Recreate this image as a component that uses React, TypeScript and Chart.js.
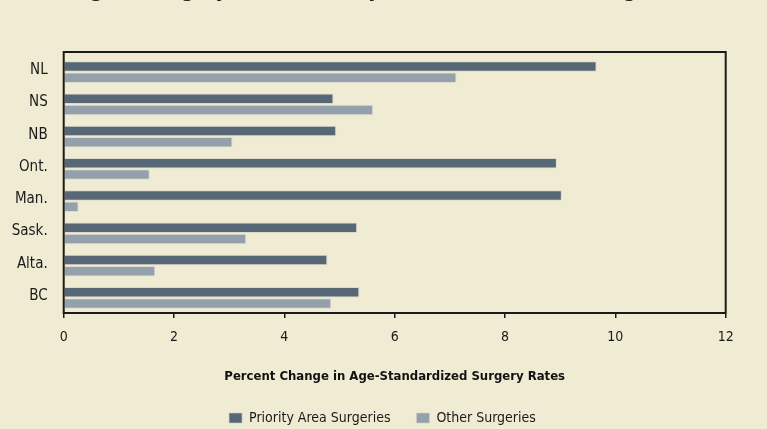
import React, { useEffect, useRef } from 'react';
import { Chart, registerables } from 'chart.js';

Chart.register(...registerables);

const provinces = ['NL', 'NS', 'NB', 'Ont.', 'Man.', 'Sask.', 'Alta.', 'BC'];
const priorityArea = [9.66, 4.89, 4.94, 8.94, 9.03, 5.32, 4.78, 5.36];
const otherSurgeries = [7.12, 5.61, 3.06, 1.56, 0.27, 3.31, 1.66, 4.85];
const xTicks = [0, 2, 4, 6, 8, 10, 12];
const seriesNames = ['Priority Area Surgeries', 'Other Surgeries'];
const chartTitle = 'Change in Surgery Rates, Priority Areas Versus Other Surgeries';
const axisTitle = 'Percent Change in Age-Standardized Surgery Rates';

const FAMILY = "'Liberation Sans Narrow', 'DejaVu Sans Condensed', 'Roboto Condensed', sans-serif";
const BG = '#F0EBD3';
const DARK = '#576775';
const LIGHT = '#94A0AC';
const INK = '#1a1a1a';
const OFFSET = 19;
const LEGEND_SHIFT = 19.6;

const bgPlugin = {
  id: 'bgFill',
  beforeDraw(chart: any) {
    const { ctx, width, height } = chart;
    ctx.save();
    ctx.fillStyle = BG;
    ctx.fillRect(0, 0, width, height);
    ctx.restore();
  },
};

const framePlugin = {
  id: 'frameBox',
  afterDatasetsDraw(chart: any) {
    const { ctx, chartArea } = chart;
    ctx.save();
    ctx.strokeStyle = INK;
    ctx.lineWidth = 2;
    const top = chartArea.top - 4;
    const bottom = chartArea.bottom - 1;
    ctx.strokeRect(chartArea.left, top, chartArea.right - chartArea.left, bottom - top);
    ctx.restore();
  },
};

const legendShiftPlugin = {
  id: 'legendShift',
  afterLayout(chart: any) {
    const lg = chart.legend;
    if (lg) {
      lg.left += LEGEND_SHIFT;
      lg.right += LEGEND_SHIFT;
    }
  },
};

export default function App() {
  const canvasRef = useRef<HTMLCanvasElement | null>(null);

  useEffect(() => {
    document.body.style.background = BG;
    const canvas = canvasRef.current;
    if (!canvas) return;
    const chart = new Chart(canvas, {
      type: 'bar',
      data: {
        labels: provinces,
        datasets: [
          {
            label: seriesNames[0],
            data: priorityArea,
            backgroundColor: DARK,
            borderColor: 'rgba(205,207,200,0.6)',
            borderWidth: 1,
            categoryPercentage: 0.685,
            barPercentage: 0.95,
          },
          {
            label: seriesNames[1],
            data: otherSurgeries,
            backgroundColor: LIGHT,
            borderColor: 'rgba(210,212,205,0.6)',
            borderWidth: 1,
            categoryPercentage: 0.685,
            barPercentage: 0.95,
          },
        ],
      },
      options: {
        indexAxis: 'y',
        animation: false,
        responsive: false,
        devicePixelRatio: 1,
        layout: { padding: { left: 0, right: 41.3, top: 0, bottom: 0 } },
        scales: {
          x: {
            type: 'linear',
            min: 0,
            max: 12,
            afterBuildTicks: (s: any) => {
              s.ticks = xTicks.map((v) => ({ value: v }));
            },
            grid: {
              drawOnChartArea: false,
              drawTicks: true,
              tickLength: 4,
              color: INK,
              lineWidth: 1.5,
            },
            border: { display: false },
            ticks: {
              padding: 11,
              color: INK,
              font: { size: 14, family: FAMILY },
            },
            title: {
              display: true,
              text: axisTitle,
              color: '#111',
              font: { size: 13, weight: 'bold', family: FAMILY },
              padding: { top: 12, bottom: 0.6 },
            },
          },
          y: {
            type: 'category',
            grid: { display: false, drawTicks: false, tickLength: 0 },
            border: { display: false },
            ticks: {
              padding: 16,
              labelOffset: -2,
              color: INK,
              font: { size: 15, family: FAMILY },
            },
            afterFit: (s: any) => {
              s.width = 63.7;
            },
          },
        },
        plugins: {
          title: {
            display: true,
            text: chartTitle,
            color: '#111',
            font: { size: 20, weight: 'bold', family: FAMILY },
            padding: { top: -1, bottom: 52 },
          },
          legend: {
            position: 'bottom',
            labels: {
              boxWidth: 13,
              boxHeight: 10,
              padding: 26,
              color: INK,
              font: { size: 14, family: FAMILY },
            },
          },
          tooltip: { enabled: false },
        },
      } as any,
      plugins: [bgPlugin, framePlugin, legendShiftPlugin],
    });
    return () => chart.destroy();
  }, []);

  return (
    <div
      style={{
        position: 'fixed',
        left: 0,
        top: 0,
        width: 767,
        height: 429,
        overflow: 'hidden',
        background: BG,
      }}
    >
      <div style={{ position: 'absolute', left: 0, top: -OFFSET, width: 767, height: 454 }}>
        <canvas ref={canvasRef} width={767} height={454} style={{ width: 767, height: 454, display: 'block' }} />
      </div>
    </div>
  );
}
